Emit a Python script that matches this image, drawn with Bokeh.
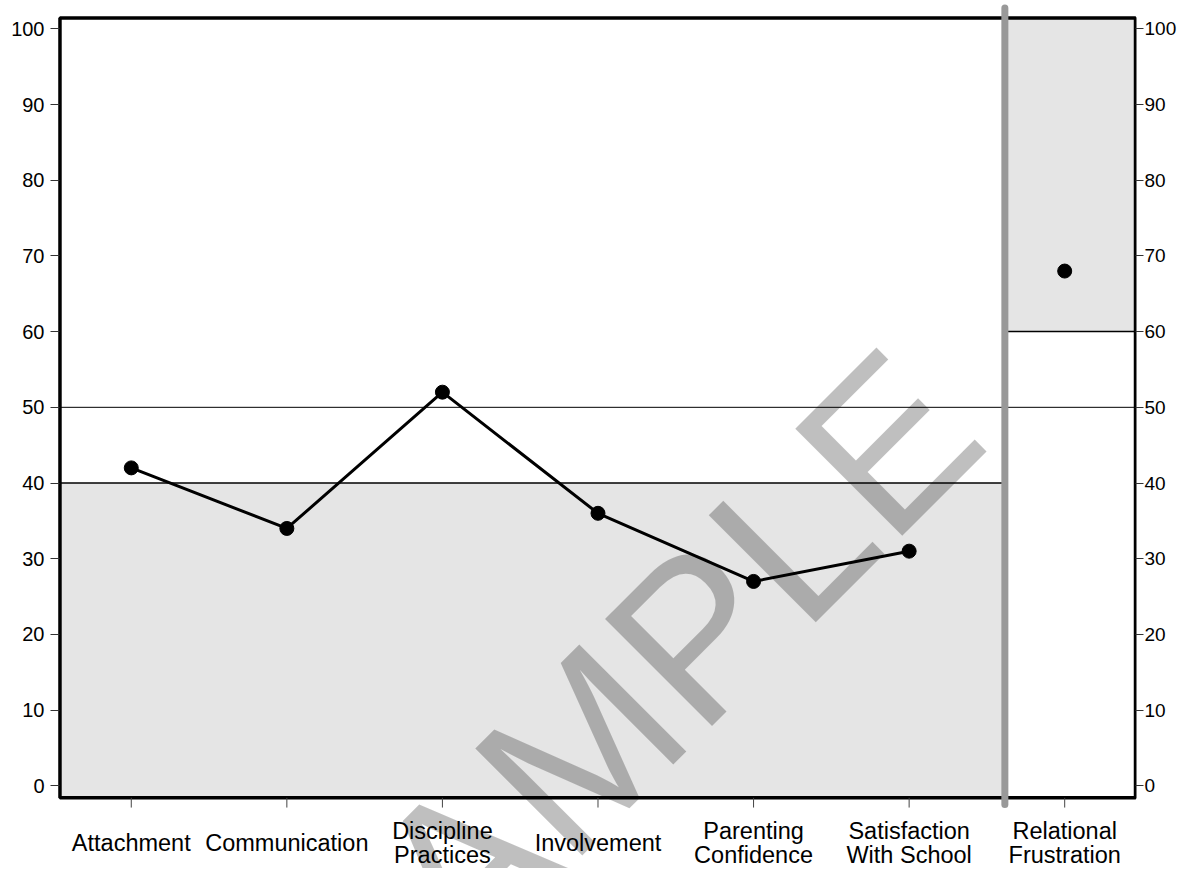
from bokeh.plotting import figure
from bokeh.models import Range1d, LinearAxis, FixedTicker, ColumnDataSource
from bokeh.embed import file_html
from bokeh.resources import INLINE
from bokeh.core.properties import value

# ---------------- data ----------------
categories = ["Attachment", "Communication", "Discipline\nPractices", "Involvement",
              "Parenting\nConfidence", "Satisfaction\nWith School", "Relational\nFrustration"]
scores = [42, 34, 52, 36, 27, 31, 68]
connected_count = 6          # the first six scales are joined by a line
y_tick_values = [0, 10, 20, 30, 40, 50, 60, 70, 80, 90, 100]
low_cutoff = 40
mid_line = 50
high_cutoff = 60
watermark_text = "SAMPLE"

# ---------------- layout constants ----------------
FONT = "Liberation Sans"
X_MIN, X_MAX = 0.48077, 7.46154
Y_MIN, Y_MAX = -10.92, 103.74
BOX_L, BOX_R = 0.54167, 7.45513
BOX_B, BOX_T = -1.585, 101.43
DIV_X = 6.61538
TICK_END = -2.87
LBL_SINGLE = -7.60
LBL_LINE1 = -6.00
LBL_LINE2 = -9.15

xs = [i + 1 for i in range(len(categories))]

p = figure(width=1179, height=868,
           x_range=Range1d(X_MIN, X_MAX), y_range=Range1d(Y_MIN, Y_MAX),
           output_backend="svg", toolbar_location=None,
           x_axis_location=None, y_axis_location="left",
           min_border_left=50, min_border_right=40,
           min_border_top=0, min_border_bottom=0)
p.outline_line_color = None
p.background_fill_color = "white"
p.border_fill_color = "white"
p.grid.visible = False

# shaded bands
p.quad(left=[BOX_L], right=[DIV_X], bottom=[BOX_B], top=[low_cutoff],
       fill_color="#e5e5e5", line_color=None)
p.quad(left=[DIV_X], right=[BOX_R], bottom=[high_cutoff], top=[BOX_T],
       fill_color="#e5e5e5", line_color=None)

# reference lines
p.segment(x0=[BOX_L], y0=[low_cutoff], x1=[DIV_X], y1=[low_cutoff],
          line_color="black", line_width=1.5)
p.segment(x0=[BOX_L], y0=[mid_line], x1=[BOX_R], y1=[mid_line],
          line_color="black", line_width=1)
p.segment(x0=[DIV_X], y0=[high_cutoff], x1=[BOX_R], y1=[high_cutoff],
          line_color="black", line_width=1.5)

# frame box
p.quad(left=[BOX_L], right=[BOX_R], bottom=[BOX_B], top=[BOX_T],
       fill_color=None, line_color="black", line_width=3.5)

# divider
p.segment(x0=[DIV_X], y0=[-2.47], x1=[DIV_X], y1=[102.75],
          line_color="#999999", line_width=7, line_cap="round")

# x ticks
p.segment(x0=xs, y0=[BOX_B] * len(xs), x1=xs, y1=[TICK_END] * len(xs),
          line_color="#444444", line_width=1)

# data
line_src = ColumnDataSource(dict(x=xs[:connected_count], y=scores[:connected_count]))
p.line("x", "y", source=line_src, line_color="black", line_width=3)
pt_src = ColumnDataSource(dict(x=xs, y=scores))
p.scatter("x", "y", source=pt_src, size=14, fill_color="black", line_color="black")

# category labels
single_x, single_t, l1_x, l1_t, l2_x, l2_t = [], [], [], [], [], []
for x, c in zip(xs, categories):
    parts = c.split("\n")
    if len(parts) == 1:
        single_x.append(x); single_t.append(parts[0])
    else:
        l1_x.append(x); l1_t.append(parts[0])
        l2_x.append(x); l2_t.append(parts[1])
for lx, lt, ly in ((single_x, single_t, LBL_SINGLE), (l1_x, l1_t, LBL_LINE1), (l2_x, l2_t, LBL_LINE2)):
    src = ColumnDataSource(dict(x=lx, y=[ly] * len(lx), t=lt))
    p.text("x", "y", text="t", source=src, text_font=value(FONT), text_font_size="23.5px",
           text_align="center", text_baseline="middle", text_color="black")

# watermark
p.text(x=[4.1667], y=[10.48], text=[watermark_text], angle=0.7854,
       text_font=value(FONT), text_font_size="220px", text_align="center",
       text_baseline="middle", text_color="black", text_alpha=0.25)

# y axes
def style_axis(ax, tick_in, tick_out, standoff, size):
    ax.ticker = FixedTicker(ticks=y_tick_values)
    ax.axis_line_color = None
    ax.major_tick_in = tick_in
    ax.major_tick_out = tick_out
    ax.minor_tick_line_color = None
    ax.major_tick_line_color = "#333333"
    ax.major_tick_line_width = 1
    ax.major_label_text_font = FONT
    ax.major_label_text_font_size = size
    ax.major_label_text_color = "black"
    ax.major_label_standoff = standoff

style_axis(p.yaxis[0], 9, 0, 6, "20px")
right_axis = LinearAxis()
style_axis(right_axis, 1, 7, 1, "19px")
p.add_layout(right_axis, "right")

open("out.html", "w").write(file_html(p, INLINE))
